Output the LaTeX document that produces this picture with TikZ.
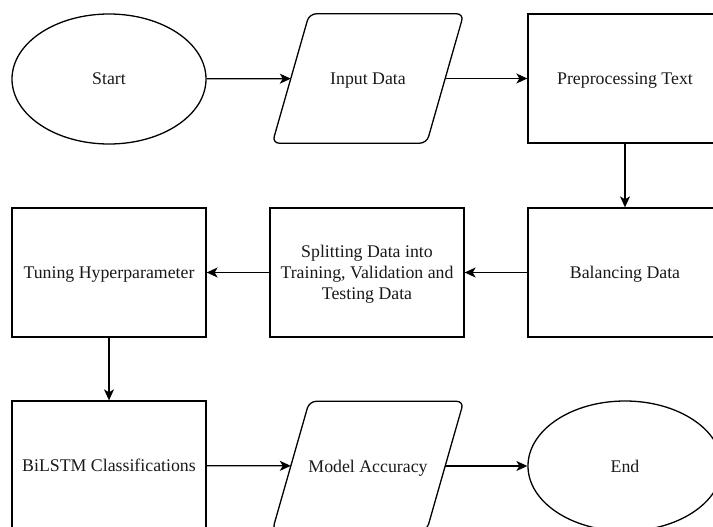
\documentclass[tikz,border=0pt]{standalone}
\usepackage{fontspec}
\setmainfont{Liberation Serif}
\usetikzlibrary{shapes.geometric,arrows.meta}
\begin{document}
\begin{tikzpicture}[x=1pt,y=-1pt,
  every node/.style={font=\fontsize{17.8}{20.8}\selectfont, text=black!90, align=center, text depth=0pt},
  box/.style={draw, line width=1.3pt, rectangle, minimum width=194pt, minimum height=129pt, inner sep=0pt},
  oval/.style={draw, line width=1.3pt, ellipse, minimum width=194pt, minimum height=130pt, inner sep=0pt},
  parabody/.style={rectangle, minimum width=154pt, minimum height=129pt, inner sep=0pt},
  paraline/.style={draw, line width=1.3pt, rounded corners=7pt},
  conn/.style={line width=1.3pt, -{Stealth[length=11pt,width=10pt,inset=3pt]}}
]
\useasboundingbox (0,0) rectangle (713,527);
\node[oval] (start) at (109,79) {Start};
\node[parabody] (input) at (368,78.5) {Input Data};
\draw[paraline] ([xshift=18.5pt]input.north west) -- ([xshift=18.5pt]input.north east)
  -- ([xshift=-18.5pt]input.south east) -- ([xshift=-18.5pt]input.south west) -- cycle;
\node[box] (pre) at (625,78.5) {Preprocessing Text};
\node[box] (bal) at (625,272.5) {Balancing Data};
\node[box] (split) at (367,272.5) {Splitting Data into\\Training, Validation and\\Testing Data};
\node[box] (tune) at (109,272.5) {Tuning Hyperparameter};
\node[box] (bil) at (109,465.5) {BiLSTM Classifications};
\node[parabody] (acc) at (368,466) {Model Accuracy};
\draw[paraline] ([xshift=18.5pt]acc.north west) -- ([xshift=18.5pt]acc.north east)
  -- ([xshift=-18.5pt]acc.south east) -- ([xshift=-18.5pt]acc.south west) -- cycle;
\node[oval] (end) at (625,466) {End};
\draw[conn] (start) -- (input);
\draw[conn] (input) -- (pre);
\draw[conn] (pre) -- (bal);
\draw[conn] (bal) -- (split);
\draw[conn] (split) -- (tune);
\draw[conn] (tune) -- (bil);
\draw[conn] (bil) -- (acc);
\draw[conn] (acc) -- (end);
\end{tikzpicture}
\end{document}
